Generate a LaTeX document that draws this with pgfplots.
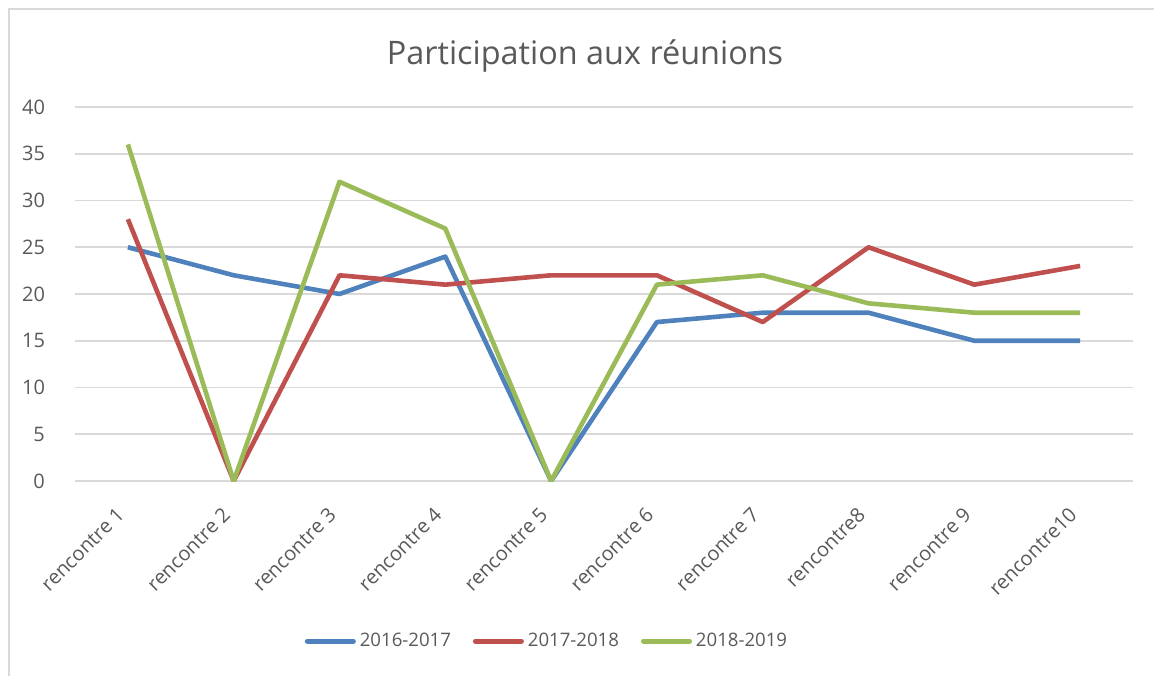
\documentclass[border=0pt]{standalone}
\usepackage{pgfplots}
\pgfplotsset{compat=1.18}
\usepackage{fontspec}
\setmainfont{Open Sans}
\definecolor{cblue}{HTML}{4F81BD}
\definecolor{cred}{HTML}{C0504D}
\definecolor{cgreen}{HTML}{9BBB59}
\definecolor{cgrid}{HTML}{D9D9D9}
\definecolor{ctext}{HTML}{595959}
\begin{document}
\begin{tikzpicture}
\path[use as bounding box] (0,0) rectangle (577pt,337.5pt);
\draw[cgrid, line width=0.8pt] (4.5pt,-10pt) -- (4.5pt,333pt) -- (590pt,333pt);
\node[text=ctext, font=\fontsize{16.2}{19}\selectfont] at (292.5pt,309.5pt) {Participation aux réunions};
\begin{axis}[
  at={(37.5pt,97pt)}, anchor=south west,
  scale only axis, width=529pt, height=187pt,
  xmin=-0.5, xmax=9.5, ymin=0, ymax=40,
  ytick={0,5,...,40},
  xtick={0,...,9},
  xticklabels={rencontre 1,rencontre 2,rencontre 3,rencontre 4,rencontre 5,rencontre 6,rencontre 7,rencontre8,rencontre 9,rencontre10},
  axis line style={draw=none},
  major tick length=0pt,
  ymajorgrids, grid style={cgrid, line width=0.8pt},
  /pgf/number format/assume math mode=true,
  tick label style={text=ctext, font=\fontsize{10}{12}\selectfont},
  yticklabel style={xshift=-11.5pt},
  xticklabel style={xshift=-6.2pt, yshift=-7.5pt, rotate=45, anchor=north east},
  legend columns=3,
  legend style={at={(0.447,-0.428)}, anchor=center, draw=none, fill=none,
    font=\fontsize{9.3}{11}\selectfont, text=ctext,
    /tikz/every even column/.append style={column sep=9pt}},
  legend image code/.code={\draw[#1, line width=2.5pt, line cap=round] (1.5pt,0pt) -- (24.5pt,0pt);},
  every axis plot/.append style={line width=2.3pt, line join=round, mark=none},
]
\addplot[cblue] coordinates {(0,25) (1,22) (2,20) (3,24) (4,0) (5,17) (6,18) (7,18) (8,15) (9,15)};
\addlegendentry{2016-2017}
\addplot[cred] coordinates {(0,28) (1,0) (2,22) (3,21) (4,22) (5,22) (6,17) (7,25) (8,21) (9,23)};
\addlegendentry{2017-2018}
\addplot[cgreen] coordinates {(0,36) (1,0) (2,32) (3,27) (4,0) (5,21) (6,22) (7,19) (8,18) (9,18)};
\addlegendentry{2018-2019}
\end{axis}
\end{tikzpicture}
\end{document}
